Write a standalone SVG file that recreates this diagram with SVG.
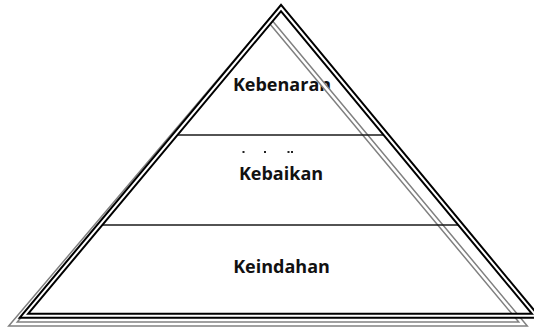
<svg xmlns="http://www.w3.org/2000/svg" width="534" height="331" viewBox="0 0 534 331">
<style>
.lbl{font-family:"Open Sans","Liberation Sans",sans-serif;font-weight:bold;font-size:18px;fill:#111;text-anchor:middle}
.gO{fill:none;stroke:#808080;stroke-width:5.5;stroke-linejoin:miter;stroke-miterlimit:20}
.gI{fill:none;stroke:#fff;stroke-width:2.5;stroke-linejoin:miter;stroke-miterlimit:20}
.bO{fill:none;stroke:#000;stroke-width:6;stroke-linejoin:miter;stroke-miterlimit:20}
.bI{fill:none;stroke:#fff;stroke-width:2;stroke-linejoin:miter;stroke-miterlimit:20}
.div{stroke:#1a1a1a;stroke-width:1.5}
</style>
<rect width="534" height="331" fill="#fff"/>
<g id="level-kebenaran"><text class="lbl" x="282" y="91">Kebenaran</text></g>
<g id="level-kebaikan">
<text class="lbl" x="281" y="180">Kebaikan</text>
<rect x="242.5" y="151" width="2" height="2" fill="#222"/>
<rect x="264" y="151" width="2" height="2" fill="#222"/>
<rect x="287.5" y="151" width="2" height="2" fill="#222"/>
<rect x="291" y="151" width="2" height="2" fill="#222"/>
</g>
<g id="level-keindahan"><text class="lbl" x="281.5" y="273">Keindahan</text></g>
<g id="shadow">
<polygon class="gO" points="270,21 523,324 13,324"/>
<polygon class="gI" points="270,21 523,324 13,324"/>
</g>
<g id="connectors">
<line class="div" x1="175" y1="135" x2="387" y2="135"/>
<line class="div" x1="100" y1="225" x2="461" y2="225"/>
</g>
<g id="pyramid">
<polygon class="bO" points="281,8 536,315.7 24,315.7"/>
<polygon class="bI" points="281,8 536,315.7 24,315.7"/>
</g>
</svg>
